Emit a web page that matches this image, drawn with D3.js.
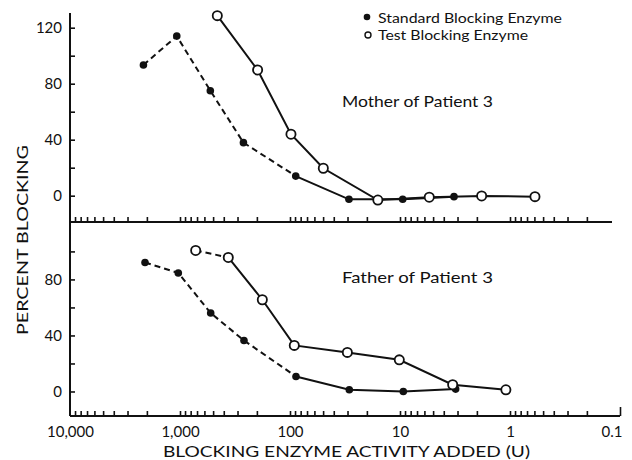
<!DOCTYPE html>
<html>
<head>
<meta charset="utf-8">
<script src="https://cdn.jsdelivr.net/npm/d3@7"></script>
<style>
  body { margin: 0; background: #fff; }
  text { font-family: Lato, "Open Sans", sans-serif; fill: #111; }
</style>
</head>
<body>
<svg width="632" height="460"></svg>
<script>
// blocking enzyme activity added (U) vs percent blocking
const decadeValues = [10000, 1000, 100, 10, 1, 0.1]
const decadeLabels = ['10,000', '1,000', '100', '10', '1', '0.1']

// Mother of Patient 3
const momStdX = [2150, 1070, 530, 265, 88.7, 29.1, 9.45, 3.23]
const momStdY = [93.4, 114, 75, 37.9, 14, -2.6, -2.6, -0.7]
const momTestX = [458, 197, 98, 49.8, 15.9, 5.42, 1.81, 0.593]
const momTestY = [128.6, 89.8, 43.9, 19.6, -3.1, -1.1, -0.2, -0.7]

// Father of Patient 3
const dadStdX = [2080, 1036, 526, 262, 88.2, 28.9, 9.33, 3.12]
const dadStdY = [92.1, 84.6, 56, 36.4, 10.7, 1.2, 0, 1.7]
const dadTestX = [720, 364, 178.5, 91.4, 30.1, 10.15, 3.32, 1.09]
const dadTestY = [100.7, 95.7, 65.5, 32.9, 27.9, 22.6, 4.8, 1.2]

const yTickValues = [0, 20, 40, 60, 80, 100, 120]

const svg = d3.select('svg')
const left = 70, right = 620

const x = d3.scaleLog().domain([10000, 0.1]).range([left, right])

// each panel has its own y scale, both 1.4 px per percent
const panels = [
  { title: 'Mother of Patient 3', y: d3.scaleLinear().domain([-18.8, 130.5]).range([222, 13]),
    std: momStdX.map((v, i) => [v, momStdY[i]]), test: momTestX.map((v, i) => [v, momTestY[i]]),
    stdDashTo: 4, testDashTo: 0, lineEnd: 612, yMax: 120, titleY: 107 },
  { title: 'Father of Patient 3', y: d3.scaleLinear().domain([-17.5, 121]).range([416, 222]),
    std: dadStdX.map((v, i) => [v, dadStdY[i]]), test: dadTestX.map((v, i) => [v, dadTestY[i]]),
    stdDashTo: 4, testDashTo: 1, lineEnd: 620, yMax: 100, titleY: 283 }
]

// vertical axis line through both panels
svg.append('line')
  .attr('x1', left).attr('x2', left).attr('y1', 13).attr('y2', 416)
  .attr('stroke', '#111').attr('stroke-width', 2)

panels.forEach((p, pi) => {
  const y = p.y
  const base = y.range()[0]
  const g = svg.append('g')

  // horizontal axis line
  g.append('line')
    .attr('x1', left).attr('x2', p.lineEnd).attr('y1', base).attr('y2', base)
    .attr('stroke', '#111').attr('stroke-width', 2)

  // log ticks pointing up
  const ticks = x.ticks().filter(v => v < 10000 && (pi === 1 || v > 0.1))
  g.append('g')
    .attr('transform', 'translate(0,' + base + ')')
    .call(d3.axisTop(x).tickValues(ticks).tickSize(5).tickFormat(''))
    .call(a => a.select('.domain').remove())
    .call(a => a.selectAll('line').attr('stroke', '#111').attr('stroke-width', 1.6)
      .attr('y2', d => (d === 0.1 ? -9 : -5)))

  // y ticks pointing into the plot
  g.append('g')
    .attr('transform', 'translate(' + left + ',0)')
    .call(d3.axisLeft(y).tickValues(yTickValues.filter(v => v <= p.yMax))
      .tickSizeInner(-5).tickSizeOuter(0).tickPadding(8)
      .tickFormat(d => (d % 40 === 0 ? d : '')))
    .call(a => a.select('.domain').remove())
    .call(a => a.selectAll('line').attr('stroke', '#111').attr('stroke-width', 1.6))
    .call(a => a.selectAll('text').attr('font-size', 15).attr('font-family', null))

  const line = d3.line().x(d => x(d[0])).y(d => y(d[1]))

  function drawSeries (pts, dashTo) {
    if (dashTo > 0) {
      g.append('path').attr('d', line(pts.slice(0, dashTo + 1)))
        .attr('fill', 'none').attr('stroke', '#111').attr('stroke-width', 2)
        .attr('stroke-dasharray', '6,4')
    }
    g.append('path').attr('d', line(pts.slice(dashTo)))
      .attr('fill', 'none').attr('stroke', '#111').attr('stroke-width', 2)
  }
  drawSeries(p.std, p.stdDashTo)
  drawSeries(p.test, p.testDashTo)

  g.selectAll('.std').data(p.std).enter().append('circle')
    .attr('cx', d => x(d[0])).attr('cy', d => y(d[1])).attr('r', 3.8)
    .attr('fill', '#111')
  g.selectAll('.test').data(p.test).enter().append('circle')
    .attr('cx', d => x(d[0])).attr('cy', d => y(d[1])).attr('r', 4.6)
    .attr('fill', '#fff').attr('stroke', '#111').attr('stroke-width', 1.8)

  g.append('text')
    .attr('x', 342).attr('y', p.titleY)
    .attr('font-size', 16)
    .attr('textLength', 151).attr('lengthAdjust', 'spacingAndGlyphs')
    .text(p.title)
})

// decade labels under bottom axis
svg.append('g')
  .attr('transform', 'translate(0,416)')
  .call(d3.axisBottom(x).tickValues(decadeValues).tickSize(0).tickPadding(10)
    .tickFormat((d, i) => decadeLabels[i]))
  .call(a => a.select('.domain').remove())
  .call(a => a.selectAll('text').attr('font-size', 15).attr('font-family', null))
  .call(a => a.selectAll('text').filter(d => d === 0.1).attr('text-anchor', 'end').attr('x', 2))

svg.append('text')
  .attr('x', 163).attr('y', 457)
  .attr('font-size', 16)
  .attr('textLength', 367).attr('lengthAdjust', 'spacingAndGlyphs')
  .text('BLOCKING ENZYME ACTIVITY ADDED (U)')

svg.append('text')
  .attr('transform', 'translate(28,335) rotate(-90)')
  .attr('font-size', 16)
  .attr('textLength', 190).attr('lengthAdjust', 'spacingAndGlyphs')
  .text('PERCENT BLOCKING')

// legend
const legend = svg.append('g')
legend.append('circle').attr('cx', 367).attr('cy', 17).attr('r', 3.3).attr('fill', '#111')
legend.append('circle').attr('cx', 368).attr('cy', 35).attr('r', 3).attr('fill', '#fff')
  .attr('stroke', '#111').attr('stroke-width', 1.4)
legend.append('text').attr('x', 378).attr('y', 23).attr('font-size', 14)
  .attr('textLength', 184).attr('lengthAdjust', 'spacingAndGlyphs')
  .text('Standard Blocking Enzyme')
legend.append('text').attr('x', 378).attr('y', 39.5).attr('font-size', 14)
  .attr('textLength', 150).attr('lengthAdjust', 'spacingAndGlyphs')
  .text('Test Blocking Enzyme')
</script>
</body>
</html>
